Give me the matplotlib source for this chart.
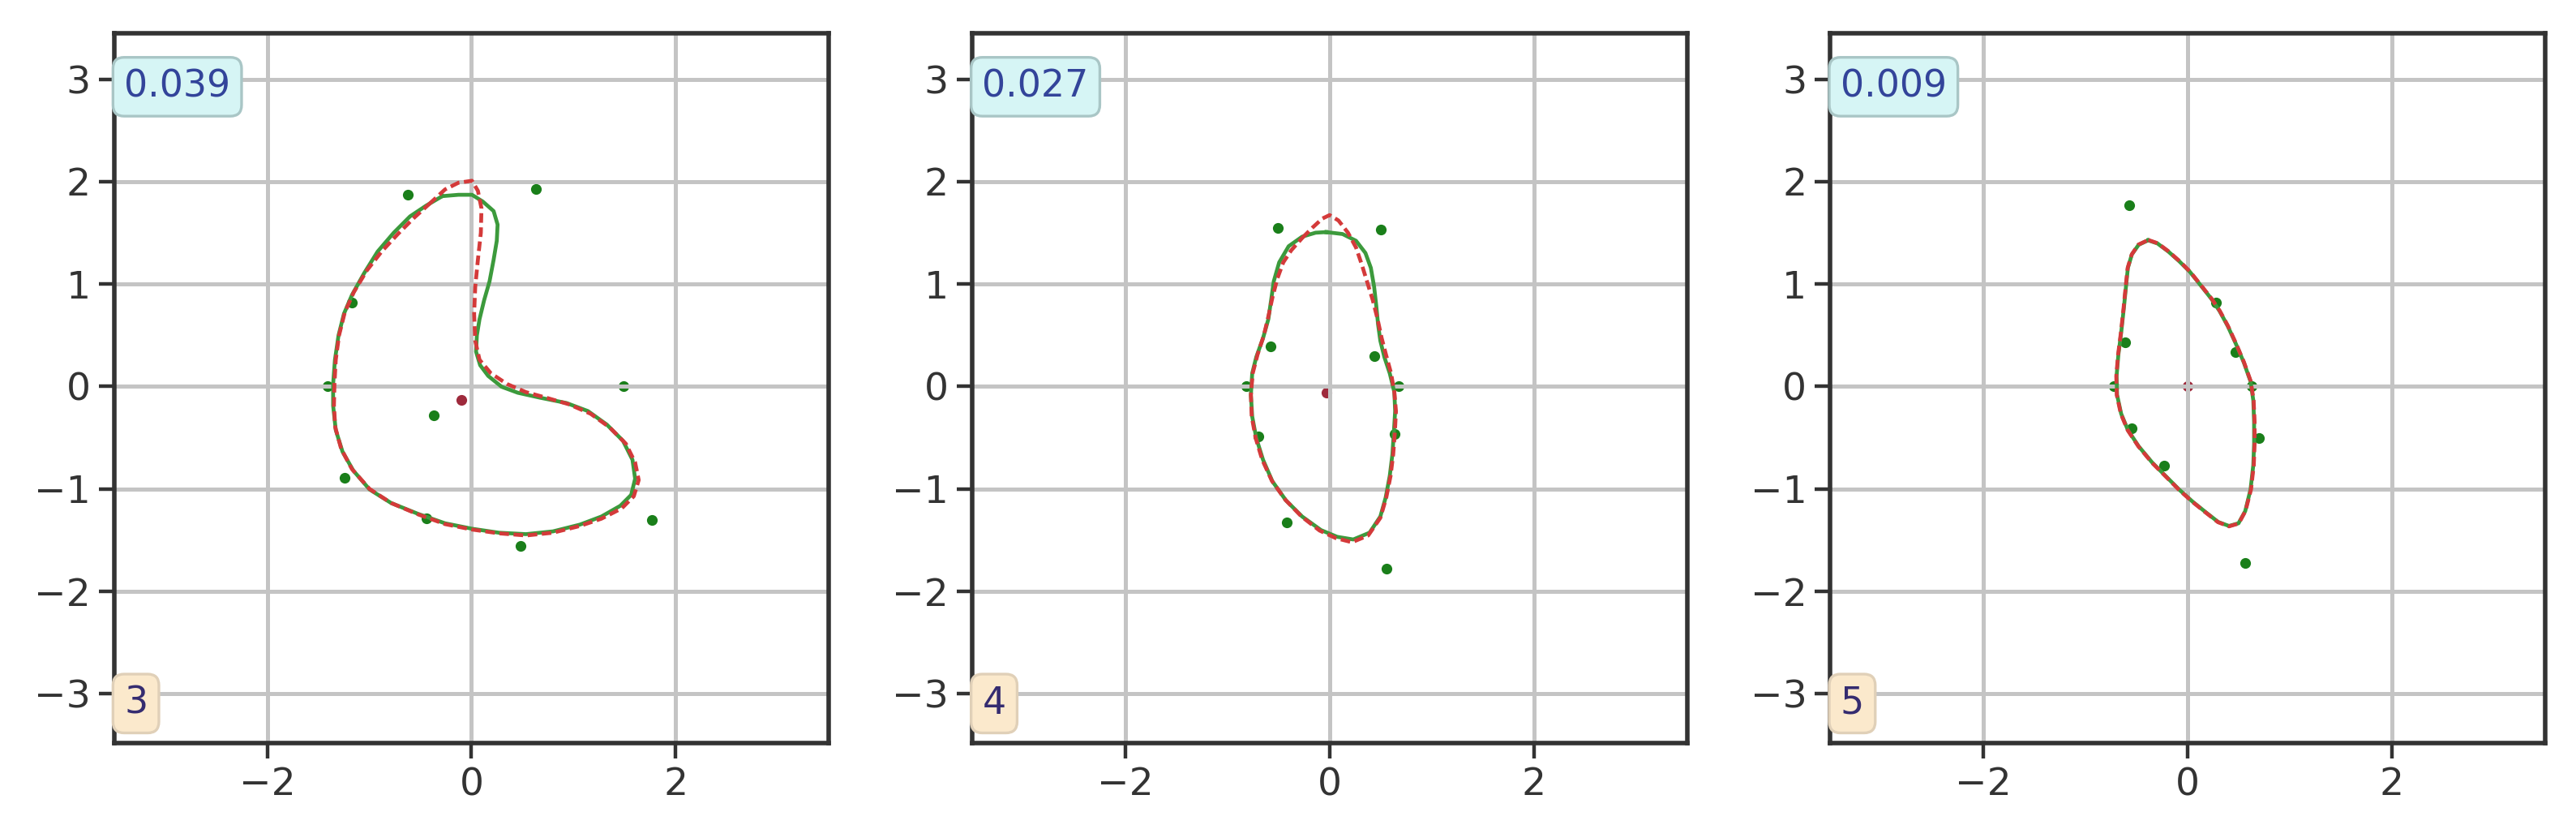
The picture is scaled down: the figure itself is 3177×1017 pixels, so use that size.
import numpy as np
import matplotlib
matplotlib.use('Agg')
import matplotlib.pyplot as plt

# panel labels and error values shown in the boxes
labels = ['3', '4', '5']
errors = ['0.039', '0.027', '0.009']

# control points (green dots)
ctrl1_x = [-0.62, 0.63, -1.17, -1.41, 1.49, -0.37, -1.24, -0.44, 0.48, 1.77]
ctrl1_y = [1.87, 1.93, 0.82, 0.0, 0.0, -0.28, -0.89, -1.29, -1.56, -1.30]
ctrl2_x = [-0.51, 0.50, -0.58, 0.44, -0.82, 0.68, -0.70, 0.64, -0.42, 0.56]
ctrl2_y = [1.55, 1.53, 0.39, 0.30, 0.0, 0.0, -0.49, -0.46, -1.33, -1.78]
ctrl3_x = [-0.57, 0.28, -0.61, 0.47, -0.72, 0.63, 0.70, -0.55, -0.23, 0.56]
ctrl3_y = [1.77, 0.82, 0.43, 0.34, 0.0, 0.0, -0.50, -0.41, -0.77, -1.72]

# centroid (red dot)
center_x = [-0.10, -0.03, 0.0]
center_y = [-0.13, -0.06, 0.0]

# fitted curve (green, solid)
fit1_x = [-0.285, -0.127, 0.005, 0.111, 0.217, 0.256, 0.248, 0.217, 0.177, 0.124,
          0.079, 0.053, 0.045, 0.085, 0.164, 0.296, 0.454, 0.666, 0.930, 1.141,
          1.326, 1.484, 1.577, 1.603, 1.564, 1.458, 1.273, 1.062, 0.798, 0.534,
          0.269, 0.005, -0.259, -0.523, -0.787, -0.998, -1.157, -1.263, -1.329, -1.355,
          -1.355, -1.337, -1.302, -1.249, -1.170, -1.051, -0.919, -0.761, -0.602, -0.444]
fit1_y = [1.858, 1.871, 1.871, 1.805, 1.712, 1.580, 1.422, 1.237, 1.026, 0.842,
          0.657, 0.499, 0.340, 0.208, 0.103, -0.003, -0.061, -0.108, -0.161, -0.240,
          -0.372, -0.530, -0.715, -0.900, -1.058, -1.164, -1.269, -1.348, -1.414, -1.441,
          -1.427, -1.388, -1.335, -1.243, -1.137, -1.005, -0.821, -0.636, -0.425, -0.187,
          0.024, 0.261, 0.499, 0.710, 0.894, 1.106, 1.317, 1.501, 1.660, 1.765]

fit2_x = [-0.032, 0.127, 0.259, 0.351, 0.404, 0.436, 0.457, 0.475, 0.497, 0.536,
          0.589, 0.634, 0.642, 0.629, 0.615, 0.589, 0.549, 0.497, 0.391, 0.232,
          0.074, -0.085, -0.269, -0.428, -0.560, -0.652, -0.718, -0.758, -0.771, -0.758,
          -0.718, -0.652, -0.600, -0.573, -0.547, -0.494, -0.401, -0.269, -0.137]
fit2_y = [1.507, 1.488, 1.422, 1.303, 1.158, 0.974, 0.789, 0.604, 0.446, 0.288,
          0.129, -0.055, -0.240, -0.451, -0.662, -0.873, -1.084, -1.269, -1.427, -1.493,
          -1.467, -1.401, -1.269, -1.111, -0.926, -0.715, -0.504, -0.293, -0.082, 0.129,
          0.288, 0.472, 0.657, 0.842, 1.026, 1.211, 1.369, 1.462, 1.501]

fit3_x = [-0.388, -0.296, -0.190, -0.085, 0.021, 0.127, 0.232, 0.312, 0.391, 0.470,
          0.549, 0.615, 0.642, 0.650, 0.650, 0.642, 0.615, 0.563, 0.497, 0.404,
          0.298, 0.180, 0.048, -0.085, -0.217, -0.349, -0.481, -0.586, -0.652, -0.692,
          -0.697, -0.679, -0.652, -0.626, -0.605, -0.586, -0.547, -0.481]
fit3_y = [1.427, 1.396, 1.317, 1.224, 1.119, 0.987, 0.855, 0.736, 0.591, 0.420,
          0.235, 0.050, -0.135, -0.346, -0.557, -0.768, -1.005, -1.216, -1.335, -1.361,
          -1.322, -1.230, -1.124, -1.005, -0.873, -0.741, -0.583, -0.425, -0.266, -0.082,
          0.103, 0.314, 0.525, 0.763, 0.974, 1.158, 1.290, 1.383]

# target curve (red, dashed)
true1_x = [-0.417, -0.259, -0.127, 0.005, 0.063, 0.098, 0.092, 0.063, 0.037, 0.026,
           0.037, 0.079, 0.190, 0.349, 0.534, 0.745, 0.956, 1.167, 1.352, 1.511,
           1.603, 1.638, 1.590, 1.471, 1.273, 1.062, 0.798, 0.534, 0.269, 0.005,
           -0.259, -0.523, -0.787, -0.998, -1.170, -1.276, -1.334, -1.347, -1.342, -1.329,
           -1.297, -1.241, -1.152, -1.025, -0.880, -0.721, -0.563]
true1_y = [1.778, 1.923, 1.989, 2.008, 1.910, 1.739, 1.501, 1.237, 0.974, 0.710,
           0.446, 0.261, 0.129, 0.024, -0.055, -0.113, -0.174, -0.266, -0.398, -0.557,
           -0.741, -0.913, -1.071, -1.190, -1.290, -1.361, -1.427, -1.454, -1.433, -1.396,
           -1.343, -1.248, -1.137, -1.000, -0.807, -0.609, -0.398, -0.187, 0.024, 0.261,
           0.499, 0.723, 0.921, 1.132, 1.317, 1.488, 1.646]

true2_x = [-0.269, -0.164, -0.071, 0.000, 0.087, 0.180, 0.259, 0.317, 0.370, 0.423,
           0.470, 0.510, 0.555, 0.602, 0.634, 0.650, 0.639, 0.623, 0.597, 0.555,
           0.497, 0.378, 0.219, 0.061, -0.098, -0.275, -0.433, -0.565, -0.660, -0.724,
           -0.763, -0.771, -0.753, -0.705, -0.644, -0.600, -0.560, -0.512, -0.454, -0.375]
true2_y = [1.449, 1.554, 1.639, 1.673, 1.620, 1.501, 1.356, 1.185, 1.013, 0.842,
           0.657, 0.472, 0.301, 0.129, -0.055, -0.240, -0.451, -0.662, -0.873, -1.084,
           -1.282, -1.454, -1.520, -1.480, -1.406, -1.269, -1.106, -0.921, -0.715, -0.504,
           -0.293, -0.082, 0.129, 0.314, 0.499, 0.683, 0.868, 1.053, 1.211, 1.330]

true3_x = [-0.386, -0.294, -0.188, -0.083, 0.023, 0.129, 0.234, 0.314, 0.393, 0.472,
           0.551, 0.617, 0.645, 0.655, 0.655, 0.647, 0.620, 0.566, 0.499, 0.404,
           0.296, 0.178, 0.046, -0.087, -0.219, -0.351, -0.483, -0.588, -0.655, -0.695,
           -0.700, -0.682, -0.655, -0.629, -0.608, -0.589, -0.549, -0.483]
true3_y = [1.430, 1.398, 1.319, 1.226, 1.121, 0.989, 0.857, 0.738, 0.593, 0.422,
           0.237, 0.052, -0.133, -0.344, -0.555, -0.766, -1.003, -1.214, -1.337, -1.365,
           -1.324, -1.232, -1.126, -1.007, -0.875, -0.743, -0.585, -0.427, -0.268, -0.084,
           0.101, 0.312, 0.523, 0.761, 0.972, 1.156, 1.288, 1.385]

ctrl_x = [ctrl1_x, ctrl2_x, ctrl3_x]
ctrl_y = [ctrl1_y, ctrl2_y, ctrl3_y]
fit_x = [fit1_x, fit2_x, fit3_x]
fit_y = [fit1_y, fit2_y, fit3_y]
true_x = [true1_x, true2_x, true3_x]
true_y = [true1_y, true2_y, true3_y]


def closed(v):
    return np.append(v, v[0])


plt.rcParams['font.family'] = ['DejaVu Sans']
fig, axes = plt.subplots(1, 3, figsize=(15.885, 5.085), dpi=200)
fig.subplots_adjust(left=0.0443, right=0.988, bottom=0.0993, top=0.96, wspace=0.2007)

for i, ax in enumerate(axes):
    ax.scatter(ctrl_x[i], ctrl_y[i], s=14, color='#1a7f1a')
    ax.scatter(center_x[i], center_y[i], s=14, color='#9e2a3c')
    ax.plot(closed(fit_x[i]), closed(fit_y[i]), color='#3c9a3c', lw=1.7)
    ax.plot(closed(true_x[i]), closed(true_y[i]), color='#d43a3a', lw=1.7,
            ls='--', dashes=(2.5, 1.2))

    ax.set_xlim(-3.5, 3.5)
    ax.set_ylim(-3.48, 3.45)
    ax.set_xticks([-2, 0, 2])
    ax.set_yticks([-3, -2, -1, 0, 1, 2, 3])
    ax.grid(True, color='#c4c4c4', lw=1.8)
    ax.tick_params(labelsize=17, length=7, width=1.6, colors='#333333')
    for sp in ax.spines.values():
        sp.set_linewidth(2.0)
        sp.set_color('#333333')

    ax.text(0.014, 0.95, errors[i], transform=ax.transAxes, fontsize=16.5,
            color='#33449a', va='top', ha='left',
            bbox=dict(boxstyle='round', facecolor='#d6f5f5', edgecolor='#a9c6c6', lw=1.2))
    ax.text(0.014, 0.03, labels[i], transform=ax.transAxes, fontsize=16.5,
            color='#352c70', va='bottom', ha='left',
            bbox=dict(boxstyle='round', facecolor='#fbe9cc', edgecolor='#e0d0b8', lw=1.2))

fig.savefig('out.png', dpi=200)
